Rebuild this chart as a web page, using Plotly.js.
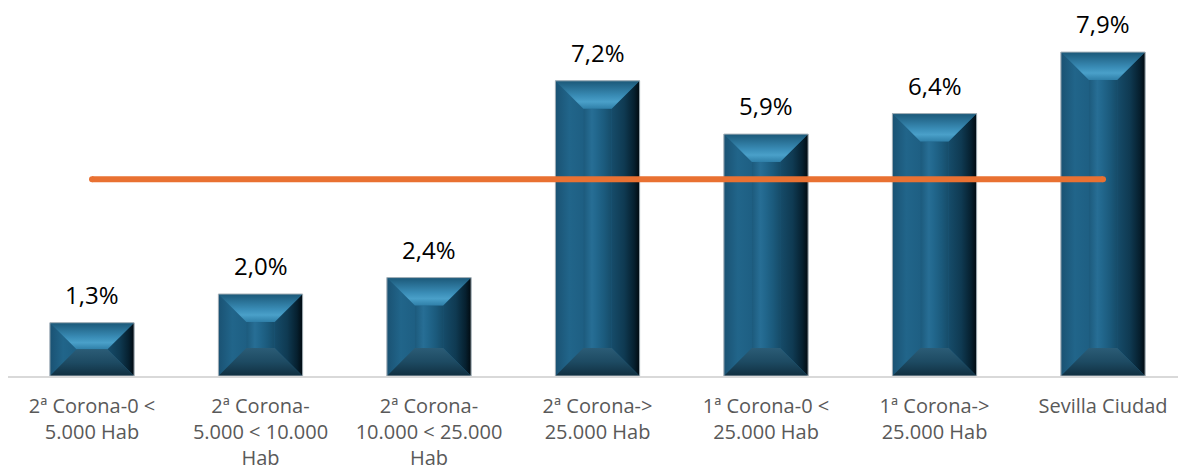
<!DOCTYPE html>
<html>
<head>
<meta charset="utf-8">
<script src="https://cdn.plot.ly/plotly-3.0.1.min.js"></script>
<style>html,body{margin:0;padding:0;background:#fff;}#chart{width:1178px;height:472px;}</style>
</head>
<body>
<div id="chart"></div>
<script>
// ---- data ----
const categories = [
  "2ª Corona-0 <|5.000 Hab",
  "2ª Corona-|5.000 < 10.000|Hab",
  "2ª Corona-|10.000 < 25.000|Hab",
  "2ª Corona->|25.000 Hab",
  "1ª Corona-0 <|25.000 Hab",
  "1ª Corona->|25.000 Hab",
  "Sevilla Ciudad"
];
const values = [1.3, 2.0, 2.4, 7.2, 5.9, 6.4, 7.9];
const valueLabels = ["1,3%", "2,0%", "2,4%", "7,2%", "5,9%", "6,4%", "7,9%"];
const averageValue = 4.8;

// ---- rendering ----
const esc = s => s.replace(/&/g,"&amp;").replace(/</g,"&lt;").replace(/>/g,"&gt;");
const tickText = categories.map(c => c.split("|").map(esc).join("<br>"));
const xs = categories.map((_, i) => i);

const W = 1178, H = 472, mL = 8, mR = 0, mT = 0, mB = 96;
const xRange = [-0.4985, 6.445];
const yRange = [0, 9.17];
const pxX = (W - mL - mR) / (xRange[1] - xRange[0]);
const pxY = (H - mT - mB) / (yRange[1] - yRange[0]);
const halfW = 0.25;
const FONT = "'Open Sans', Roboto, sans-serif";

const traces = [];
traces.push({
  type: "bar", x: xs, y: values, width: 2 * halfW,
  marker: { color: "#1d5f83", line: { width: 0 } },
  hoverinfo: "skip", showlegend: false
});

function poly(pts, grad, color) {
  const t = {
    type: "scatter", mode: "lines", fill: "toself",
    x: pts.map(p => p[0]).concat([pts[0][0]]),
    y: pts.map(p => p[1]).concat([pts[0][1]]),
    line: { width: 0, color: "rgba(0,0,0,0)" },
    hoverinfo: "skip", showlegend: false
  };
  if (grad) t.fillgradient = grad; else t.fillcolor = color;
  return t;
}

const outlineX = [], outlineY = [];
values.forEach((v, i) => {
  const bp = Math.min(28, v * pxY / 2);
  const dx = bp / pxX, dy = bp / pxY;
  const L = i - halfW, R = i + halfW, T = v, B = 0;
  // front face
  traces.push(poly([[L+dx,T-dy],[R-dx,T-dy],[R-dx,B+dy],[L+dx,B+dy]], {
    type: "horizontal", start: L+dx, stop: R-dx,
    colorscale: [[0,"#1c5a7c"],[0.3,"#276e95"],[0.45,"#22688e"],[0.75,"#1b5a7c"],[1,"#164c69"]]
  }));
  // left side
  traces.push(poly([[L,T],[L+dx,T-dy],[L+dx,B+dy],[L,B]], {
    type: "horizontal", start: L, stop: L+dx,
    colorscale: [[0,"#1a5273"],[0.5,"#21658a"],[1,"#1e5f83"]]
  }));
  // right side
  traces.push(poly([[R,T],[R-dx,T-dy],[R-dx,B+dy],[R,B]], {
    type: "horizontal", start: R-dx, stop: R,
    colorscale: [[0,"#164c6a"],[0.45,"#0f3a52"],[0.8,"#06202f"],[1,"#010a10"]]
  }));
  // top bevel
  traces.push(poly([[L,T],[R,T],[R-dx,T-dy],[L+dx,T-dy]], {
    type: "vertical", start: T-dy, stop: T,
    colorscale: [[0,"#2f7fa8"],[0.25,"#4aa0c9"],[0.45,"#3a8db7"],[1,"#1b5878"]]
  }));
  // bottom bevel
  traces.push(poly([[L,B],[R,B],[R-dx,B+dy],[L+dx,B+dy]], {
    type: "vertical", start: B, stop: B+dy,
    colorscale: [[0,"#102f40"],[0.5,"#1d4a62"],[1,"#2b5c76"]]
  }));
  outlineX.push(L, R, R, L, L, null);
  outlineY.push(B, B, T, T, B, null);
});

traces.push({
  type: "scatter", mode: "lines", x: outlineX, y: outlineY,
  line: { color: "#a9b3ba", width: 1 }, hoverinfo: "skip", showlegend: false
});

traces.push({
  type: "scatter", mode: "lines+markers",
  x: [xs[0], xs[xs.length-1]], y: [averageValue, averageValue],
  line: { color: "#E97132", width: 6 },
  marker: { color: "#E97132", size: 6 },
  hoverinfo: "skip", showlegend: false
});

const annotations = values.map((v, i) => ({
  x: i, y: v, xref: "x", yref: "y", text: valueLabels[i],
  showarrow: false, yanchor: "bottom", yshift: 10,
  font: { family: FONT, size: 24, color: "#000000" }
}));

const layout = {
  width: W, height: H,
  margin: { l: mL, r: mR, t: mT, b: mB, pad: 0 },
  paper_bgcolor: "#ffffff", plot_bgcolor: "#ffffff",
  showlegend: false,
  xaxis: {
    range: xRange, tickvals: xs, ticktext: tickText,
    showline: true, linecolor: "#d9d9d9", linewidth: 2,
    showgrid: false, zeroline: false,
    ticks: "outside", ticklen: 11, tickcolor: "rgba(0,0,0,0)",
    tickfont: { family: FONT, size: 20, color: "#595959" },
    fixedrange: true
  },
  yaxis: {
    range: yRange, visible: false, showgrid: false, zeroline: false, fixedrange: true
  },
  annotations: annotations
};

Plotly.newPlot("chart", traces, layout, { staticPlot: true, displayModeBar: false });
</script>
</body>
</html>
